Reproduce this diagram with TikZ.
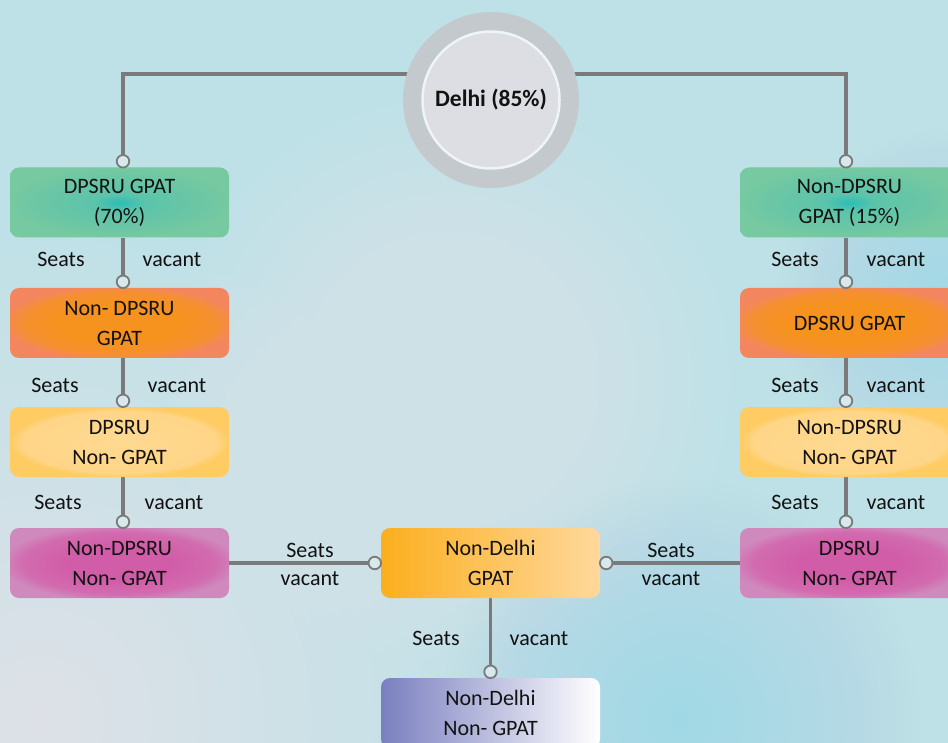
\documentclass[tikz,border=0pt]{standalone}
\usepackage{fontspec}
\setmainfont{Carlito}
\usetikzlibrary{calc}
\definecolor{bgbase}{HTML}{BEE1E7}
\definecolor{bgblue}{HTML}{9FD9E5}
\definecolor{connc}{HTML}{7A7A7A}
\definecolor{markfill}{HTML}{D8E9EC}
\definecolor{txt}{HTML}{121212}
\definecolor{ringc}{HTML}{C3C9CC}
\definecolor{innerc}{HTML}{DCDEE3}
\definecolor{innerrim}{HTML}{EEF5F7}
\definecolor{gC}{HTML}{34BEB5}
\definecolor{gM}{HTML}{5CC4AA}
\definecolor{gN}{HTML}{6BC6A5}
\definecolor{gO}{HTML}{76C9A0}
\definecolor{oC}{HTML}{F6921E}
\definecolor{oM}{HTML}{F59030}
\definecolor{oO}{HTML}{F4865F}
\definecolor{yC}{HTML}{FFD991}
\definecolor{yM}{HTML}{FFD688}
\definecolor{yO}{HTML}{FFCB63}
\definecolor{pC}{HTML}{D15DA8}
\definecolor{pM}{HTML}{D26BAF}
\definecolor{pO}{HTML}{CF89BC}
\definecolor{ngL}{HTML}{FBAF1E}
\definecolor{ngR}{HTML}{FFD89C}
\definecolor{nnL}{HTML}{7A7FBF}
\definecolor{nnR}{HTML}{FFFFFF}
\pgfdeclareradialshading{gshade}{\pgfpoint{0bp}{0bp}}{color(0bp)=(gC); color(1bp)=(gC); color(6bp)=(gM); color(18bp)=(gN); color(25bp)=(gO); color(50bp)=(gO)}
\pgfdeclareradialshading{oshade}{\pgfpoint{0bp}{0bp}}{color(0bp)=(oC); color(14bp)=(oC); color(22bp)=(oM); color(27bp)=(oO); color(50bp)=(oO)}
\pgfdeclareradialshading{yshade}{\pgfpoint{0bp}{0bp}}{color(0bp)=(yC); color(22bp)=(yM); color(25bp)=(yO); color(50bp)=(yO)}
\pgfdeclareradialshading{pshade}{\pgfpoint{0bp}{0bp}}{color(0bp)=(pC); color(12bp)=(pC); color(22bp)=(pM); color(27bp)=(pO); color(50bp)=(pO)}
\pgfdeclarelayer{back}
\pgfdeclarelayer{mid}
\pgfsetlayers{back,mid,main}
\newcommand{\bxfont}{\fontsize{22}{30}\selectfont}
\newcommand{\softblob}[5]{%
  \foreach \k in {1,...,30}{\fill[#4, opacity=#5] (#1,#2) circle ({#3*\k/30});}}
\begin{document}
\begin{tikzpicture}[x=1pt,y=-1pt,
  boxbase/.style={rounded corners=9pt, minimum width=219pt, minimum height=70pt,
    inner sep=0pt, align=center, text=txt, font=\bxfont},
  gbox/.style={boxbase, shading=gshade},
  obox/.style={boxbase, shading=oshade},
  ybox/.style={boxbase, shading=yshade},
  pbox/.style={boxbase, shading=pshade},
  ngbox/.style={boxbase, left color=ngL, right color=ngR},
  nnbox/.style={boxbase, left color=nnL, right color=nnR},
  conn/.style={draw=connc, line width=3.2pt},
  markc/.style={circle, draw=connc, line width=1.8pt, fill=markfill,
    minimum size=12.5pt, inner sep=0pt},
  lbl/.style={text=txt, font=\bxfont, anchor=base, inner sep=0pt}]
\useasboundingbox (0,0) rectangle (948,743);
% centre circle
\node[circle, fill=ringc, minimum size=176pt, inner sep=0pt] (delhi) at (491,100) {};
\node[circle, fill=innerc, draw=innerrim, line width=2.5pt, minimum size=137pt,
  inner sep=0pt, text=txt, font=\fontsize{23.5}{28}\selectfont\bfseries] (delhiin) at (delhi.center) {Delhi (85\%)};
% left column
\node[gbox] (g1) at (119.5,202.5) {DPSRU GPAT\\(70\%)};
\node[obox] (o1) at (119.5,323) {Non- DPSRU\\GPAT};
\node[ybox] (y1) at (119.5,442) {DPSRU\\Non- GPAT};
\node[pbox] (p1) at (119.5,563) {Non-DPSRU\\Non- GPAT};
% right column
\node[gbox] (g2) at (849.5,202.5) {Non-DPSRU\\GPAT (15\%)};
\node[obox] (o2) at (849.5,323) {DPSRU GPAT};
\node[ybox] (y2) at (849.5,442) {Non-DPSRU\\Non- GPAT};
\node[pbox] (p2) at (849.5,563) {DPSRU\\Non- GPAT};
% centre column
\node[ngbox] (ng) at (490.5,563) {Non-Delhi\\GPAT};
\node[nnbox] (nn) at (490.5,713) {Non-Delhi\\Non- GPAT};
% helper coordinates
\coordinate (lx) at (123,0);
\coordinate (rx) at (846,0);
\coordinate (ty) at (0,74);
\coordinate (m1) at ($(g1.north -| lx)+(0,-6)$);
\coordinate (m2) at ($(o1.north -| lx)+(0,-6)$);
\coordinate (m3) at ($(y1.north -| lx)+(0,-6)$);
\coordinate (m4) at ($(p1.north -| lx)+(0,-6)$);
\coordinate (n1) at ($(g2.north -| rx)+(0,-6)$);
\coordinate (n2) at ($(o2.north -| rx)+(0,-6)$);
\coordinate (n3) at ($(y2.north -| rx)+(0,-6)$);
\coordinate (n4) at ($(p2.north -| rx)+(0,-6)$);
\coordinate (h1) at ($(ng.west)+(-6,0)$);
\coordinate (h2) at ($(ng.east)+(6,0)$);
\coordinate (b1) at ($(nn.north)+(0,-6)$);
% background
\begin{pgfonlayer}{back}
\begin{scope}
\clip (0,0) rectangle (948,743);
\fill[bgbase] (0,0) rectangle (948,743);
\softblob{40}{720}{480}{white}{0.03}
\softblob{0}{110}{110}{white}{0.012}
\softblob{450}{380}{280}{white}{0.018}
\softblob{680}{720}{240}{bgblue}{0.018}
\softblob{948}{300}{170}{bgblue}{0.01}
\end{scope}
\end{pgfonlayer}
% connectors
\begin{pgfonlayer}{mid}
\draw[conn] (delhi.center |- ty) -| (m1);
\draw[conn] (delhi.center |- ty) -| (n1);
\draw[conn] (g1.south -| lx) -- (m2);
\draw[conn] (o1.south -| lx) -- (m3);
\draw[conn] (y1.south -| lx) -- (m4);
\draw[conn] (g2.south -| rx) -- (n2);
\draw[conn] (o2.south -| rx) -- (n3);
\draw[conn] (y2.south -| rx) -- (n4);
\draw[conn] (p1.east) -- (h1);
\draw[conn] (p2.west) -- (h2);
\draw[conn] (ng.south) -- (b1);
\end{pgfonlayer}
% markers
\foreach \m in {m1,m2,m3,m4,n1,n2,n3,n4,h1,h2,b1}{\node[markc] at (\m) {};}
% labels
\node[lbl] (s1) at (61,267) {Seats};
\node[lbl] (v1) at (172,267) {vacant};
\node[lbl] (s2) at (55,392) {Seats};
\node[lbl] (v2) at (177,392) {vacant};
\node[lbl] (s3) at (58,509) {Seats};
\node[lbl] (v3) at (174,509) {vacant};
\node[lbl] (s4) at (795,267) {Seats};
\node[lbl] (v4) at (896,267) {vacant};
\node[lbl] (s5) at (795,392) {Seats};
\node[lbl] (v5) at (896,392) {vacant};
\node[lbl] (s6) at (795,509) {Seats};
\node[lbl] (v6) at (896,509) {vacant};
\node[lbl] (s7) at (310,557) {Seats};
\node[lbl] (v7) at (310,585) {vacant};
\node[lbl] (s8) at (671,557) {Seats};
\node[lbl] (v8) at (671,585) {vacant};
\node[lbl] (s9) at (436,645) {Seats};
\node[lbl] (v9) at (539,645) {vacant};
\end{tikzpicture}
\end{document}
